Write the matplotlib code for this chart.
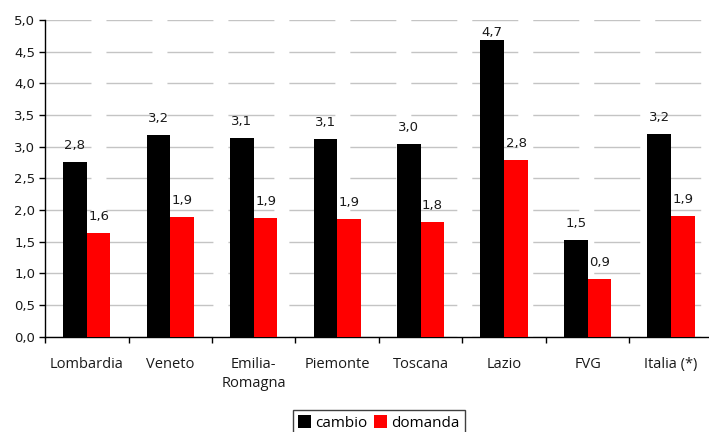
import matplotlib
matplotlib.use("Agg")
import matplotlib.pyplot as plt
import numpy as np
from matplotlib.patches import Patch

regioni = ["Lombardia", "Veneto", "Emilia-\nRomagna", "Piemonte", "Toscana",
           "Lazio", "FVG", "Italia (*)"]
cambio = [2.76, 3.18, 3.14, 3.12, 3.04, 4.68, 1.53, 3.20]
domanda = [1.64, 1.89, 1.87, 1.86, 1.81, 2.79, 0.91, 1.90]

col_cambio = "#000000"
col_domanda = "#ff0000"

fig = plt.figure(figsize=(7.09, 4.32), dpi=100)
ax = fig.add_axes([0.0635, 0.221, 0.942, 0.7326])

x = np.arange(len(regioni))
w = 0.284
b1 = ax.bar(x - w / 2, cambio, w, color=col_cambio, zorder=3)
b2 = ax.bar(x + w / 2, domanda, w, color=col_domanda, zorder=3)

# etichette dei valori, con la virgola decimale
for bars, vals in [(b1, cambio), (b2, domanda)]:
    for r, v in zip(bars, vals):
        lab = f"{v:.1f}".replace(".", ",")
        ax.text(r.get_x() + r.get_width() / 2, min(v + 0.26, 4.8), lab,
                ha="center", va="center", fontsize=9.5, family="DejaVu Sans",
                color="#1a1a1a", zorder=4)

ax.set_xlim(-0.5, len(regioni) - 0.5)
ax.set_ylim(0, 5)
ticks = np.arange(0, 5.01, 0.5)
ax.set_yticks(ticks)
ax.set_yticklabels([f"{t:.1f}".replace(".", ",") for t in ticks],
                   fontsize=9.5, family="DejaVu Sans", color="#1a1a1a")
ax.yaxis.grid(True, color="#c4c4c4", linewidth=1.0,
              linestyle=(0, (33.1, 10.8)), zorder=0)
ax.set_axisbelow(True)

ax.set_xticks(x)
ax.set_xticklabels(regioni, fontsize=10.5, family="Open Sans", color="#1a1a1a",
                   linespacing=1.3)
ax.set_xticks(np.arange(-0.5, len(regioni)), minor=True)
ax.tick_params(axis="x", which="major", length=0, pad=15)
ax.tick_params(axis="x", which="minor", length=4, width=1, direction="out")
ax.tick_params(axis="y", length=4, width=1, direction="out", pad=3)

for s in ["top", "right"]:
    ax.spines[s].set_visible(False)
for s in ["left", "bottom"]:
    ax.spines[s].set_linewidth(1)

handles = [Patch(facecolor=col_cambio, label="cambio"),
           Patch(facecolor=col_domanda, label="domanda")]
leg = fig.legend(handles=handles, loc="upper center", ncol=2,
                 bbox_to_anchor=(0.534, 0.051), frameon=True, fancybox=False,
                 edgecolor="#404040", framealpha=1, handlelength=0.85,
                 handleheight=0.9, handletextpad=0.25, columnspacing=0.45,
                 borderpad=0.35, borderaxespad=0,
                 prop={"family": "Open Sans", "size": 11})
leg.get_frame().set_linewidth(1)

fig.savefig("out.png", dpi=100)
